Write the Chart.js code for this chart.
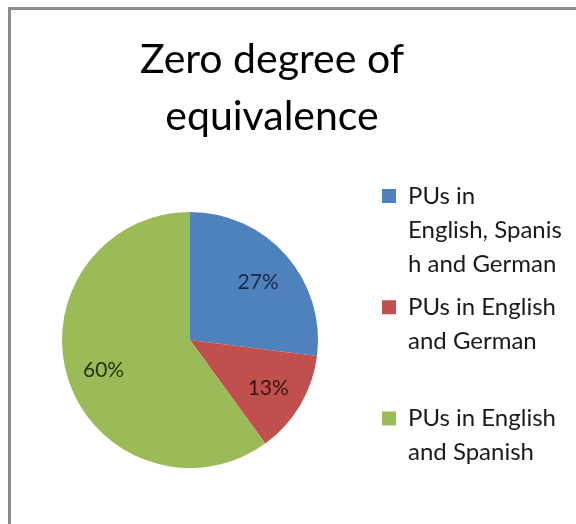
<!DOCTYPE html>
<html>
<head>
<meta charset="utf-8">
<script src="https://cdn.jsdelivr.net/npm/chart.js@4.4.1/dist/chart.umd.min.js"></script>
<style>
  html, body { margin: 0; padding: 0; background: #ffffff; }
  #wrap { position: absolute; left: 0; top: 0; width: 576px; height: 524px; overflow: hidden; }
  #frame { position: absolute; left: 8px; top: 7px; width: 640px; height: 640px; border: 3px solid #8c8c8c; box-sizing: border-box; }
  #c { position: absolute; left: 0; top: 0; }
</style>
</head>
<body>
<div id="wrap">
  <div id="frame"></div>
  <canvas id="c" width="576" height="524"></canvas>
</div>
<script>
// ---- data ----
const titleLines = ['Zero degree of', 'equivalence'];
const categories = [
  ['PUs in', 'English, Spanis', 'h and German'],
  ['PUs in English', 'and German', ''],
  ['PUs in English', 'and Spanish']
];
const shares = [27, 13, 60];
const sliceColors = ['#4F81BD', '#C0504D', '#9BBB59'];
const labelColors = ['#172a4a', '#3a1010', '#24340e'];

// ---- in-slice percentage labels ----
const sliceLabels = {
  id: 'sliceLabels',
  afterLayout(chart) {
    // let the legend text run to the canvas edge instead of being clipped
    const lg = chart.legend;
    if (lg) { lg.right = chart.width; lg.width = lg.right - lg.left; }
  },
  afterDatasetsDraw(chart) {
    const ctx = chart.ctx;
    const meta = chart.getDatasetMeta(0);
    ctx.save();
    ctx.font = '21px Lato';
    ctx.textAlign = 'center';
    ctx.textBaseline = 'middle';
    meta.data.forEach((arc, i) => {
      const p = arc.getProps(['x', 'y', 'startAngle', 'endAngle', 'outerRadius'], true);
      const mid = (p.startAngle + p.endAngle) / 2;
      const r = p.outerRadius * 0.71;
      ctx.fillStyle = labelColors[i];
      ctx.fillText(shares[i] + '%', p.x + Math.cos(mid) * r, p.y + Math.sin(mid) * r + 2);
    });
    ctx.restore();
  }
};

new Chart(document.getElementById('c'), {
  type: 'pie',
  data: {
    labels: categories,
    datasets: [{
      data: shares,
      backgroundColor: sliceColors,
      borderWidth: 0,
      radius: 128
    }]
  },
  options: {
    responsive: false,
    animation: false,
    layout: { padding: { left: 7, right: 39, top: 0, bottom: 19 } },
    plugins: {
      tooltip: { enabled: false },
      title: {
        display: true,
        text: titleLines,
        color: '#000000',
        font: { family: 'Lato', size: 41, weight: 'normal', lineHeight: 1.39 },
        padding: { top: 31, bottom: 30 }
      },
      legend: {
        display: true,
        position: 'right',
        align: 'start',
        fullSize: false,
        maxWidth: 164,
        labels: {
          color: '#1a1a1a',
          font: { family: 'Lato', size: 24, lineHeight: 1.42 },
          boxWidth: 14,
          boxHeight: 14,
          padding: 9
        }
      }
    }
  },
  plugins: [sliceLabels]
});
</script>
</body>
</html>
